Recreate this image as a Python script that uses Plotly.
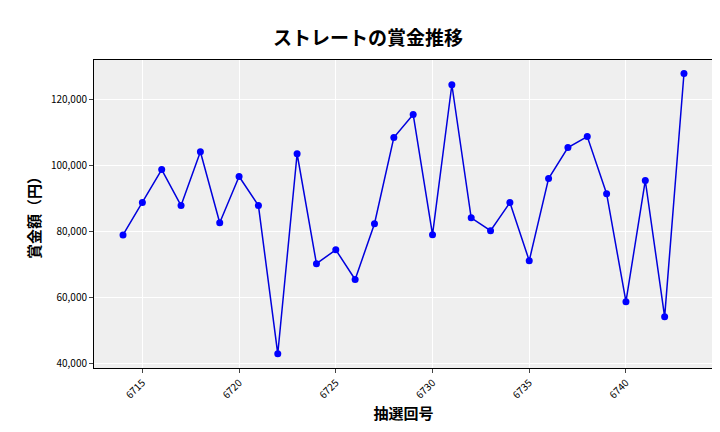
import plotly.graph_objects as go

# 抽選回号と賞金額
draws = list(range(6714, 6744))
prizes = [79000, 88800, 98800, 87900, 104200, 82700, 96700, 87900, 43000, 103600,
          70300, 74500, 65500, 82400, 108500, 115500, 79100, 124500, 84200, 80300,
          88800, 71200, 96100, 105500, 108800, 91500, 58800, 95500, 54200, 127900]
tick_vals = [6715, 6720, 6725, 6730, 6735, 6740]

font = "Noto Sans CJK JP"

fig = go.Figure(go.Scatter(
    x=draws, y=prizes, mode="lines+markers",
    line=dict(color="#0000dd", width=1.5),
    marker=dict(color="#0000ff", size=7),
))

fig.update_layout(
    width=720, height=432,
    margin=dict(l=86, r=15, t=52, b=72),
    plot_bgcolor="#efefef", paper_bgcolor="white",
    font=dict(family=font, color="black"),
    showlegend=False,
    title=dict(text="<b>ストレートの賞金推移</b>", x=0.5, xanchor="center", y=0.945,
               font=dict(size=19, family=font)),
)
fig.update_xaxes(
    title_text="<b>抽選回号</b>", title_font=dict(size=15), title_standoff=8,
    tickvals=tick_vals, tickangle=-45, tickfont=dict(size=10),
    range=[6712.5, 6744.5], gridcolor="white", ticks="outside", ticklen=4,
    showline=True, linecolor="black", mirror=True, zeroline=False,
    automargin=False,
)
fig.update_yaxes(
    title_text="<b>賞金額（円）</b>", title_font=dict(size=15), title_standoff=6,
    tickvals=[40000, 60000, 80000, 100000, 120000], tickformat=",d",
    tickfont=dict(size=10), range=[38700, 132000], gridcolor="white",
    ticks="outside", ticklen=4,
    showline=True, linecolor="black", mirror=True, zeroline=False,
    automargin=False,
)

fig.write_html("out.html")
